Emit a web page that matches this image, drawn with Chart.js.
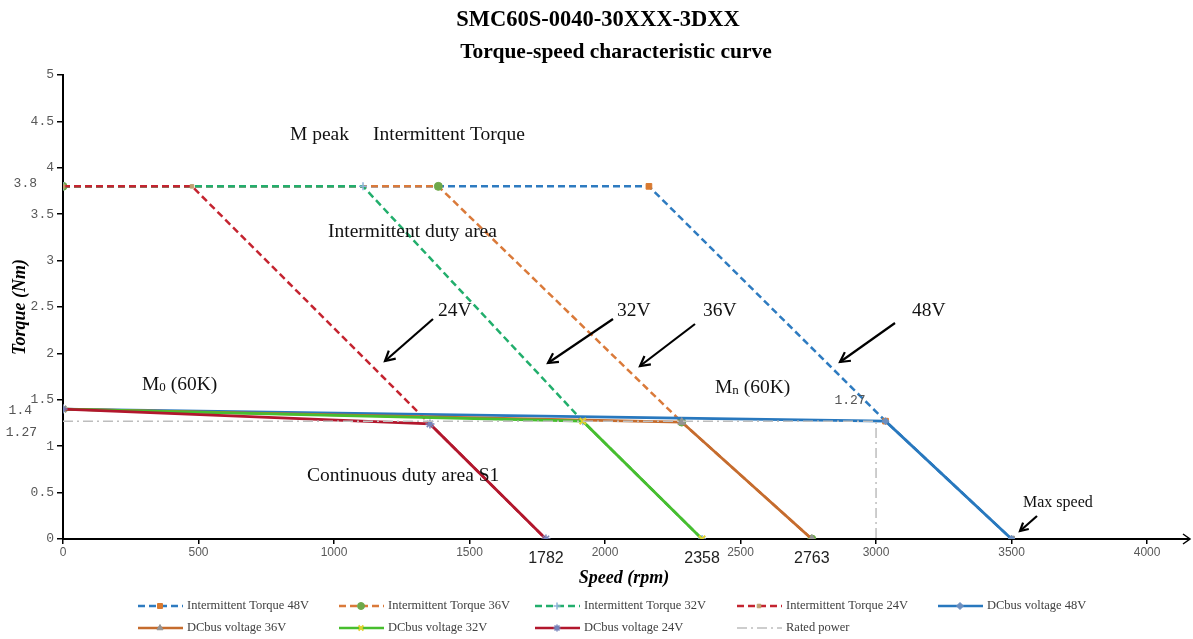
<!DOCTYPE html>
<html><head><meta charset="utf-8">
<script src="https://cdn.jsdelivr.net/npm/chart.js@4/dist/chart.umd.min.js"></script>
<style>html,body{margin:0;padding:0;background:#fff;}#wrap{width:1193px;height:639px;position:relative;}</style>
</head><body><div id="wrap"><canvas id="c" width="1193" height="639"></canvas></div>
<script>
// ---------- data ----------
const titleLines = ['SMC60S-0040-30XXX-3DXX', 'Torque-speed characteristic curve'];
const seriesNames = ['Intermittent Torque 48V','Intermittent Torque 36V','Intermittent Torque 32V','Intermittent Torque 24V',
  'DCbus voltage 48V','DCbus voltage 36V','DCbus voltage 32V','DCbus voltage 24V','Rated power'];
const int48Speed = [0, 2162, 3035, 3500];
const int48Torque = [3.8, 3.8, 1.27, 0];
const int36Speed = [0, 1385, 2283, 2763];
const int36Torque = [3.8, 3.8, 1.26, 0];
const int32Speed = [0, 1107, 1918, 2358];
const int32Torque = [3.8, 3.8, 1.27, 0];
const int24Speed = [0, 476, 1354, 1782];
const int24Torque = [3.8, 3.8, 1.24, 0];
const dc48Speed = [0, 3035, 3500];
const dc48Torque = [1.4, 1.27, 0];
const dc36Speed = [0, 2283, 2763];
const dc36Torque = [1.4, 1.26, 0];
const dc32Speed = [0, 1918, 2358];
const dc32Torque = [1.4, 1.27, 0];
const dc24Speed = [0, 1354, 1782];
const dc24Torque = [1.4, 1.24, 0];
const ratedSpeed = [0, 3000, 3000];
const ratedTorque = [1.27, 1.27, 0];
const xTickValues = [0, 500, 1000, 1500, 2000, 2500, 3000, 3500, 4000];
const yTickValues = [0, 0.5, 1, 1.5, 2, 2.5, 3, 3.5, 4, 4.5, 5];
const markedSpeeds = [1782, 2358, 2763];
const markedTorques = [3.8, 1.4, 1.27];
const ratedTorqueLabel = '1.27';
const voltageLabels = ['24V', '32V', '36V', '48V'];

// ---------- build ----------
const pts = (xs, ys) => xs.map((v, i) => ({x: v, y: ys[i]}));
const serif = '"Liberation Serif", "Times New Roman", serif';
const mono = '"Liberation Mono", monospace';
const sans = '"Liberation Sans", Arial, sans-serif';

const styles = [
  {c:'#2E7BC0', dash:[7,4], ps:'rect', pr:4, pc:['#C9A267','#D97A30','#D97A30','#8C8C8C'], pw:1},
  {c:'#DA7A3A', dash:[7,4], ps:'circle', pr:4, pc:'#6EA84A', pw:1},
  {c:'#22AE6C', dash:[7,4], ps:'cross', pr:4, pc:'#8FB4D8', pw:1.5},
  {c:'#C42430', dash:[7,4], ps:'rect', pr:2.5, pc:'#C0A070', pw:1},
  {c:'#2878BE', dash:[], ps:'rectRot', pr:3.5, pc:'#6C8FC0', pw:1},
  {c:'#C56C2E', dash:[], ps:'triangle', pr:4.5, pc:'#959595', pw:1},
  {c:'#47BE2E', dash:[], ps:'crossRot', pr:4.5, pc:'#E0D030', pw:2},
  {c:'#B2172D', dash:[], ps:'star', pr:4.5, pc:'#7483BA', pw:1.5},
  {c:'#BDBDBD', dash:[10,4,2,4], ps:'circle', pr:0, pc:'#BDBDBD', pw:1}
];
const seriesData = [
  pts(int48Speed, int48Torque), pts(int36Speed, int36Torque), pts(int32Speed, int32Torque), pts(int24Speed, int24Torque),
  pts(dc48Speed, dc48Torque), pts(dc36Speed, dc36Torque), pts(dc32Speed, dc32Torque), pts(dc24Speed, dc24Torque),
  pts(ratedSpeed, ratedTorque)
];
const datasets = seriesData.map((d, i) => {
  const s = styles[i];
  return {
    label: seriesNames[i], data: d, showLine: true, tension: 0,
    borderColor: s.c, borderWidth: i === 8 ? 1.5 : (s.dash.length ? 2.5 : 2.8), borderDash: s.dash,
    pointStyle: s.ps, pointRadius: s.pr, pointHoverRadius: s.pr,
    pointBackgroundColor: s.pc, pointBorderColor: s.pc, pointBorderWidth: s.pw,
    order: 20 - i
  };
});

function arrow(ctx, x1, y1, x2, y2, w, head) {
  ctx.save();
  ctx.strokeStyle = '#000'; ctx.lineWidth = w; ctx.setLineDash([]);
  ctx.beginPath(); ctx.moveTo(x1, y1); ctx.lineTo(x2, y2); ctx.stroke();
  const a = Math.atan2(y2 - y1, x2 - x1);
  ctx.beginPath();
  ctx.moveTo(x2 - head * Math.cos(a - 0.5), y2 - head * Math.sin(a - 0.5));
  ctx.lineTo(x2, y2);
  ctx.lineTo(x2 - head * Math.cos(a + 0.5), y2 - head * Math.sin(a + 0.5));
  ctx.stroke();
  ctx.restore();
}

const deco = {
  id: 'deco',
  afterDraw(chart) {
    const {ctx, scales: {x, y}} = chart;
    ctx.save();
    // titles
    ctx.fillStyle = '#000'; ctx.textAlign = 'center'; ctx.textBaseline = 'middle';
    ctx.font = 'bold 22.5px ' + serif;
    ctx.fillText(titleLines[0], 598, 20);
    ctx.font = 'bold 21.5px ' + serif;
    ctx.fillText(titleLines[1], 616, 52);

    // x-axis arrow extension
    const y0 = y.getPixelForValue(0);
    ctx.strokeStyle = '#000'; ctx.lineWidth = 2;
    ctx.beginPath(); ctx.moveTo(x.right - 1, y0); ctx.lineTo(1190, y0); ctx.stroke();
    ctx.lineWidth = 1.5;
    ctx.beginPath(); ctx.moveTo(1183, y0 - 5); ctx.lineTo(1190, y0); ctx.lineTo(1183, y0 + 5); ctx.stroke();

    // marked speeds under axis
    ctx.fillStyle = '#222'; ctx.font = '16px ' + sans; ctx.textAlign = 'center';
    markedSpeeds.forEach(v => ctx.fillText(String(v), x.getPixelForValue(v), 559));

    // marked torques left of axis
    ctx.fillStyle = '#555'; ctx.font = '13px ' + mono; ctx.textAlign = 'right';
    ctx.fillText(String(markedTorques[0]), 37, y.getPixelForValue(markedTorques[0]) - 3);
    ctx.fillText(String(markedTorques[1]), 32, y.getPixelForValue(markedTorques[1]) + 1);
    ctx.fillText(String(markedTorques[2]), 37, y.getPixelForValue(markedTorques[2]) + 11);
    ctx.textAlign = 'center';
    ctx.fillText(ratedTorqueLabel, 850, 401);

    // annotations
    ctx.fillStyle = '#111'; ctx.textAlign = 'left'; ctx.font = '19.5px ' + serif;
    ctx.fillText('M peak', 290, 135);
    ctx.fillText('Intermittent Torque', 373, 135);
    ctx.fillText('Intermittent duty area', 328, 232);
    ctx.fillText('Continuous duty area S1', 307, 476);
    ctx.fillText('M', 142, 385);
    let mw = ctx.measureText('M').width;
    ctx.font = '13px ' + serif; ctx.fillText('0', 142 + mw, 388);
    let zw = ctx.measureText('0').width;
    ctx.font = '19.5px ' + serif; ctx.fillText(' (60K)', 142 + mw + zw, 385);
    ctx.fillText('M', 715, 388);
    mw = ctx.measureText('M').width;
    ctx.font = '13px ' + serif; ctx.fillText('n', 715 + mw, 391);
    zw = ctx.measureText('n').width;
    ctx.font = '19.5px ' + serif; ctx.fillText(' (60K)', 715 + mw + zw, 388);

    ctx.font = '19.5px ' + serif;
    const vx = [438, 617, 703, 912];
    voltageLabels.forEach((t, i) => ctx.fillText(t, vx[i], 311));
    ctx.font = '16px ' + serif;
    ctx.fillText('Max speed', 1023, 503);

    arrow(ctx, 433, 319, 385, 361, 2.2, 11);
    arrow(ctx, 613, 319, 548, 363, 2.2, 11);
    arrow(ctx, 695, 324, 640, 366, 2.2, 11);
    arrow(ctx, 895, 323, 840, 362, 2.2, 11);
    arrow(ctx, 1037, 516, 1020, 531, 2.2, 9);

    // legend (Excel-style grid)
    const cols = [138, 339, 535, 737, 938];
    const rows = [606, 628];
    chart.data.datasets.forEach((ds, i) => {
      const cx = cols[i % 5], cy = rows[Math.floor(i / 5)];
      ctx.save();
      ctx.strokeStyle = ds.borderColor; ctx.lineWidth = i === 8 ? 1.5 : 2.5;
      ctx.setLineDash(ds.borderDash || []);
      ctx.beginPath(); ctx.moveTo(cx, cy); ctx.lineTo(cx + 45, cy); ctx.stroke();
      ctx.setLineDash([]);
      if (ds.pointRadius > 0) {
        const pc = Array.isArray(ds.pointBackgroundColor) ? ds.pointBackgroundColor[1] : ds.pointBackgroundColor;
        ctx.fillStyle = pc; ctx.strokeStyle = pc; ctx.lineWidth = ds.pointBorderWidth;
        Chart.helpers.drawPoint(ctx, {pointStyle: ds.pointStyle, radius: Math.min(ds.pointRadius, 3.5), rotation: 0, borderWidth: ds.pointBorderWidth}, cx + 22, cy);
      }
      ctx.restore();
      ctx.fillStyle = '#404040'; ctx.font = '12.5px ' + serif; ctx.textAlign = 'left'; ctx.textBaseline = 'middle';
      ctx.fillText(ds.label, cx + 49, cy);
    });
    ctx.restore();
  }
};

new Chart(document.getElementById('c'), {
  type: 'scatter',
  data: {datasets},
  options: {
    responsive: false, animation: false, devicePixelRatio: 1,
    layout: {padding: {top: 75, left: 0, right: 8, bottom: 46}},
    plugins: {legend: {display: false}, title: {display: false}, tooltip: {enabled: false}},
    scales: {
      x: {
        type: 'linear', min: 0, max: 4140,
        afterBuildTicks: s => { s.ticks = xTickValues.map(v => ({value: v})); },
        afterFit: s => { s.height = 54; s.paddingLeft = 0; s.paddingRight = 0; },
        ticks: {font: {family: sans, size: 12}, color: '#595959', padding: 1, maxRotation: 0, autoSkip: false,
          callback: v => String(v)},
        grid: {drawOnChartArea: false, drawTicks: true, tickLength: 5, color: '#000', lineWidth: 1.5},
        border: {display: true, color: '#000', width: 2},
        title: {display: true, text: 'Speed (rpm)', color: '#000', font: {family: serif, size: 18, weight: 'bold', style: 'italic'}, padding: {top: 0, bottom: 4}}
      },
      y: {
        type: 'linear', min: 0, max: 5,
        afterBuildTicks: s => { s.ticks = yTickValues.map(v => ({value: v})); },
        afterFit: s => { s.width = 63; s.paddingTop = 0; s.paddingBottom = 0; },
        ticks: {font: {family: mono, size: 13}, color: '#595959', padding: 3, autoSkip: false,
          callback: v => String(v)},
        grid: {drawOnChartArea: false, drawTicks: true, tickLength: 6, color: '#000', lineWidth: 1.5},
        border: {display: true, color: '#000', width: 2},
        title: {display: true, text: 'Torque (Nm)', color: '#000', font: {family: serif, size: 18, weight: 'bold', style: 'italic'}, padding: {top: 10, bottom: 0}}
      }
    }
  },
  plugins: [deco]
});
</script></body></html>
